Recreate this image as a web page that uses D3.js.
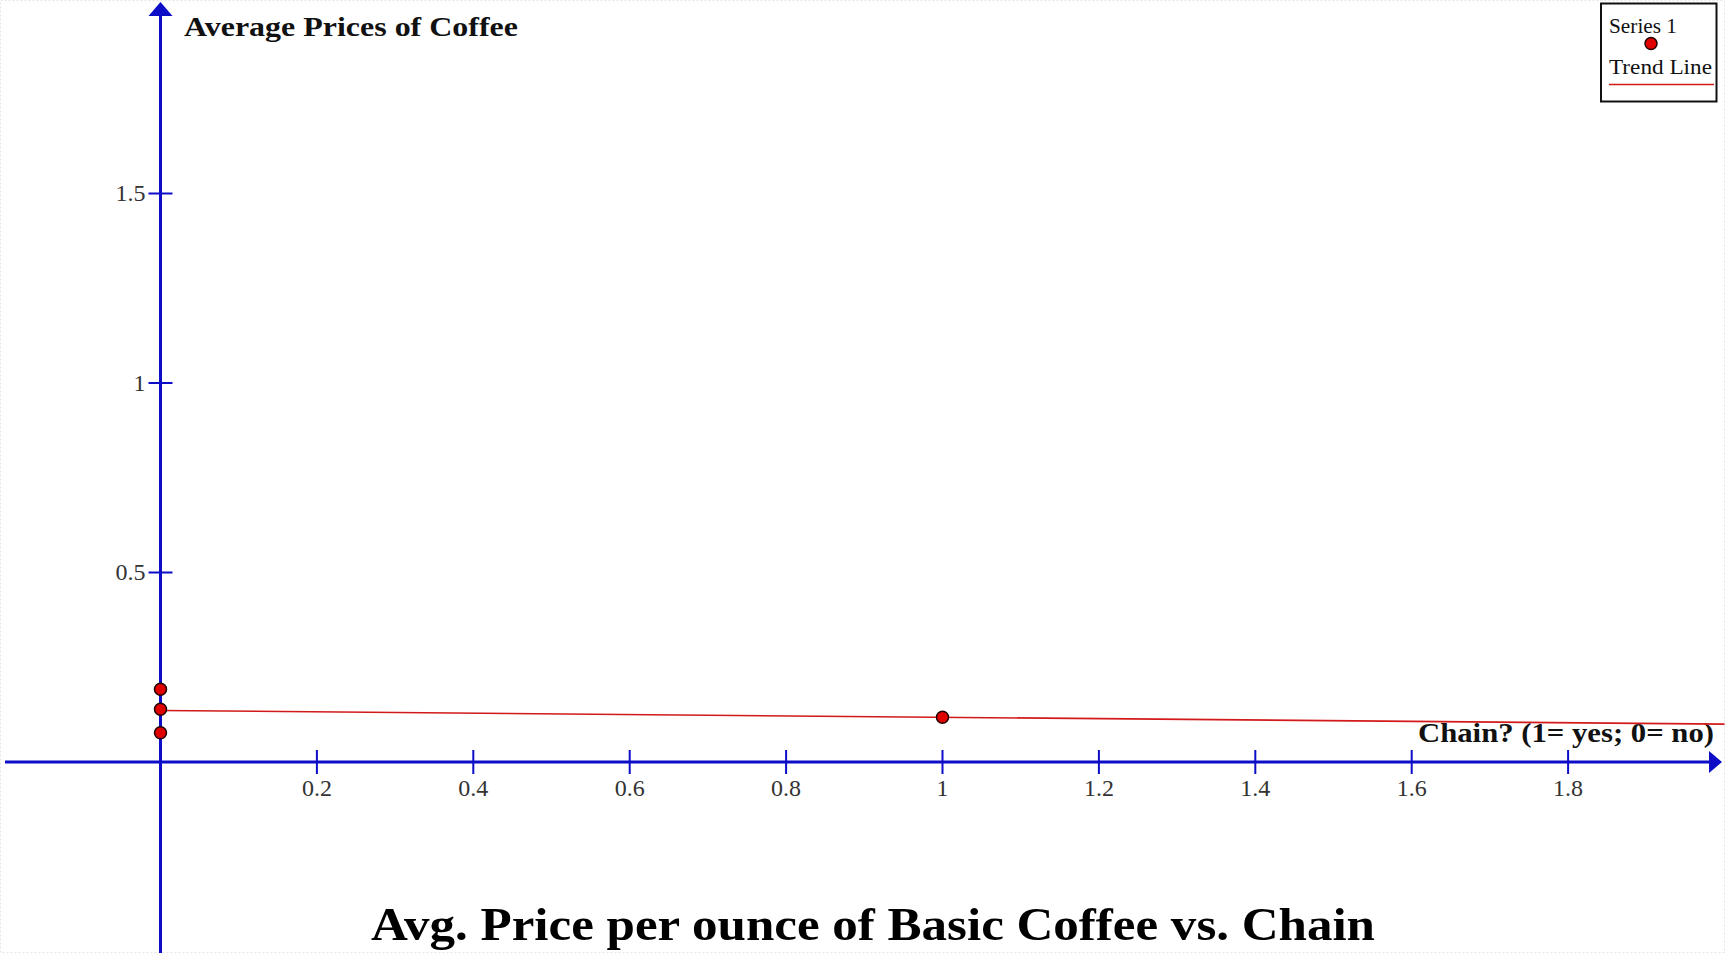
<!DOCTYPE html>
<html>
<head>
<meta charset="utf-8">
<script src="https://cdn.jsdelivr.net/npm/d3@7"></script>
<style>
  html, body { margin: 0; padding: 0; background: #ffffff; overflow: hidden; }
  svg { display: block; }
</style>
</head>
<body>
<script>
// ---- data ----
const chainX = [0, 0, 0, 1];
const avgPrice = [0.192, 0.139, 0.077, 0.118];
const xTicks = [0.2, 0.4, 0.6, 0.8, 1, 1.2, 1.4, 1.6, 1.8];
const yTicks = [0.5, 1, 1.5];
const xLabel = "Chain? (1= yes; 0= no)";
const yLabel = "Average Prices of Coffee";
const chartTitle = "Avg. Price per ounce of Basic Coffee vs. Chain";
const legendNames = ["Series 1", "Trend Line"];

const W = 1725, H = 953;
const blue = "#0d0dc8", red = "#e00000", trendRed = "#d21a1a";

const svg = d3.select("body").append("svg").attr("width", W).attr("height", H);

// faint dotted page border
svg.append("rect").attr("x", 0.5).attr("y", 0.5).attr("width", W - 1).attr("height", H - 1)
  .attr("fill", "none").attr("stroke", "#e4e4e4").attr("stroke-dasharray", "2,2");

const x = d3.scaleLinear().domain([0, 2]).range([160.5, 160.5 + 2 * 782]);
const y = d3.scaleLinear().domain([0, 2]).range([762, 762 - 2 * 379]);

// axes lines
svg.append("line").attr("x1", 5).attr("x2", W - 12).attr("y1", y(0)).attr("y2", y(0))
  .attr("stroke", blue).attr("stroke-width", 3);
svg.append("line").attr("x1", x(0)).attr("x2", x(0)).attr("y1", 15).attr("y2", H)
  .attr("stroke", blue).attr("stroke-width", 3);
// arrowheads
svg.append("path").attr("d", `M${W - 3},${y(0)} L${W - 16},${y(0) - 11} L${W - 16},${y(0) + 11} Z`).attr("fill", blue);
svg.append("path").attr("d", `M${x(0)},2 L${x(0) - 12},16 L${x(0) + 12},16 Z`).attr("fill", blue);

// x ticks
const xt = svg.append("g").selectAll("g").data(xTicks).join("g")
  .attr("transform", d => `translate(${x(d)},${y(0)})`);
xt.append("line").attr("y1", -12).attr("y2", 12).attr("stroke", blue).attr("stroke-width", 2);
xt.append("text").attr("y", 34).attr("text-anchor", "middle")
  .attr("font-family", "Liberation Serif").attr("font-size", 24).attr("fill", "#333")
  .text(d => d3.format("")(d));

// y ticks
const yt = svg.append("g").selectAll("g").data(yTicks).join("g")
  .attr("transform", d => `translate(${x(0)},${y(d)})`);
yt.append("line").attr("x1", -12).attr("x2", 12).attr("stroke", blue).attr("stroke-width", 2);
yt.append("text").attr("x", -15).attr("dy", "0.33em").attr("text-anchor", "end")
  .attr("font-family", "Liberation Serif").attr("font-size", 24).attr("fill", "#333")
  .text(d => d3.format("")(d));

// axis labels
svg.append("text").attr("x", 184).attr("y", 35.5)
  .attr("font-family", "Liberation Serif").attr("font-weight", "bold").attr("font-size", 28)
  .attr("fill", "#111").attr("textLength", 334).attr("lengthAdjust", "spacingAndGlyphs").text(yLabel);
svg.append("text").attr("x", 1418).attr("y", 741.5)
  .attr("font-family", "Liberation Serif").attr("font-weight", "bold").attr("font-size", 28)
  .attr("fill", "#111").attr("textLength", 296).attr("lengthAdjust", "spacingAndGlyphs").text(xLabel);

// trend line (least squares)
const mx = d3.mean(chainX), my = d3.mean(avgPrice);
const slope = d3.sum(chainX.map((v, i) => (v - mx) * (avgPrice[i] - my))) /
              d3.sum(chainX.map(v => (v - mx) ** 2));
const intercept = my - slope * mx;
svg.append("line")
  .attr("x1", x(0)).attr("y1", y(intercept))
  .attr("x2", x(2)).attr("y2", y(intercept + slope * 2))
  .attr("stroke", trendRed).attr("stroke-width", 1.6);

// points
svg.append("g").selectAll("circle").data(chainX.map((v, i) => [v, avgPrice[i]])).join("circle")
  .attr("cx", d => x(d[0])).attr("cy", d => y(d[1])).attr("r", 6)
  .attr("fill", red).attr("stroke", "#200").attr("stroke-width", 1.5);

// legend
const lg = svg.append("g");
lg.append("rect").attr("x", 1601).attr("y", 3.5).attr("width", 115.5).attr("height", 98)
  .attr("fill", "#fff").attr("stroke", "#111").attr("stroke-width", 2);
lg.append("text").attr("x", 1609).attr("y", 33).attr("font-family", "Liberation Serif")
  .attr("font-size", 21).attr("fill", "#111")
  .attr("textLength", 68).attr("lengthAdjust", "spacingAndGlyphs").text(legendNames[0]);
lg.append("circle").attr("cx", 1651).attr("cy", 43.5).attr("r", 6)
  .attr("fill", red).attr("stroke", "#200").attr("stroke-width", 1.5);
lg.append("text").attr("x", 1609).attr("y", 74).attr("font-family", "Liberation Serif")
  .attr("font-size", 21).attr("fill", "#111")
  .attr("textLength", 103).attr("lengthAdjust", "spacingAndGlyphs").text(legendNames[1]);
lg.append("line").attr("x1", 1609).attr("x2", 1714).attr("y1", 84.5).attr("y2", 84.5)
  .attr("stroke", trendRed).attr("stroke-width", 1.6);

// bottom title
svg.append("text").attr("x", 371).attr("y", 940)
  .attr("font-family", "Liberation Serif").attr("font-weight", "bold").attr("font-size", 46)
  .attr("fill", "#000").attr("textLength", 1004).attr("lengthAdjust", "spacingAndGlyphs").text(chartTitle);
</script>
</body>
</html>
